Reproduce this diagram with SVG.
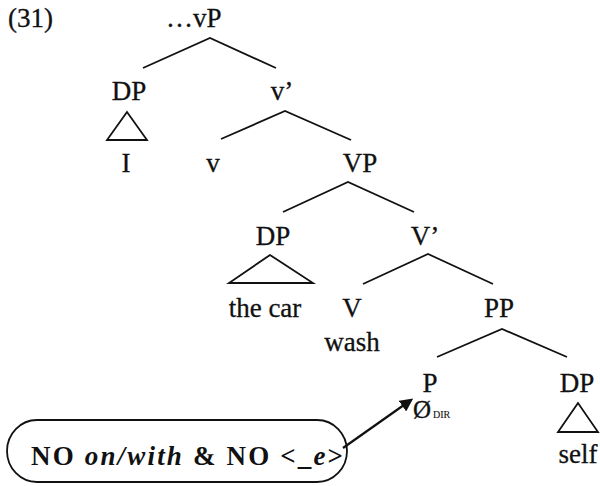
<svg xmlns="http://www.w3.org/2000/svg" width="600" height="486" viewBox="0 0 600 486">
<defs>
<style>
.t{font-family:"Liberation Serif","Times New Roman",serif;font-size:27px;fill:#111;stroke:#111;stroke-width:0.3;text-anchor:middle}
.l{stroke:#111;stroke-width:1.8;fill:none}
.b{font-family:"Liberation Serif","Times New Roman",serif;font-size:27px;font-weight:bold;fill:#111}
</style>
<marker id="ah" viewBox="0 0 10 10" refX="8" refY="5" markerWidth="6" markerHeight="6" orient="auto" markerUnits="strokeWidth">
<path d="M0,0 L10,5 L0,10 z" fill="#111"/>
</marker>
</defs>
<rect width="600" height="486" fill="#fff"/>
<text class="t" x="8" y="27" style="text-anchor:start">(31)</text>
<g id="connectors">
<path class="l" d="M143,68 L210,38 L276,68"/>
<path class="l" d="M221,139 L285,111 L351,140"/>
<path class="l" d="M283,212 L348,182 L414,212"/>
<path class="l" d="M363,284 L428,254 L493,284"/>
<path class="l" d="M437,357 L502,329 L567,357"/>
<path class="l" d="M127,112 L107,140 L147,140 Z"/>
<path class="l" d="M270,255 L229,283 L313,283 Z"/>
<path class="l" d="M578,403 L558,432 L598,432 Z"/>
<line x1="343" y1="448" x2="411" y2="400" stroke="#111" stroke-width="2.2" marker-end="url(#ah)"/>
</g>
<g id="vP"><text class="t" x="166" y="27" style="text-anchor:start">…vP</text></g>
<g id="DP1"><text class="t" x="129" y="100">DP</text></g>
<g id="I"><text class="t" x="126" y="172">I</text></g>
<g id="vbar"><text class="t" x="282" y="100">v’</text></g>
<g id="v"><text class="t" x="213" y="172">v</text></g>
<g id="VP"><text class="t" x="360" y="172">VP</text></g>
<g id="DP2"><text class="t" x="273" y="245">DP</text></g>
<g id="thecar"><text class="t" x="265" y="317">the car</text></g>
<g id="Vbar"><text class="t" x="425" y="245">V’</text></g>
<g id="V"><text class="t" x="352" y="317">V</text><text class="t" x="352" y="351">wash</text></g>
<g id="PP"><text class="t" x="499" y="317">PP</text></g>
<g id="P"><text class="t" x="430" y="392">P</text><text class="t" x="413" y="418" style="text-anchor:start;font-size:25px">Ø<tspan font-size="10" dx="2" style="stroke-width:0.1">DIR</tspan></text></g>
<g id="DP3"><text class="t" x="577" y="392">DP</text></g>
<g id="self"><text class="t" x="578" y="463">self</text></g>
<g id="box">
<rect x="7" y="420" width="340" height="62" rx="30" ry="31" class="l"/>
<text class="b" x="31" y="465" textLength="312" lengthAdjust="spacing">NO <tspan font-style="italic">on/with</tspan>  &amp; NO &lt;_<tspan font-style="italic">e</tspan>&gt;</text>
</g>
</svg>
